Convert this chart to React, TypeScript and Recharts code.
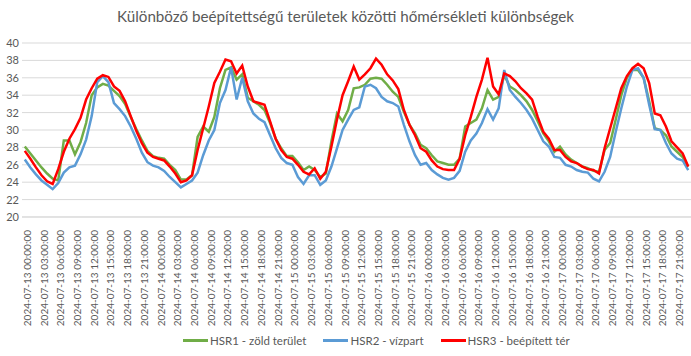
import { LineChart, Line, XAxis, YAxis, CartesianGrid } from 'recharts';

const days = ['2024-07-13', '2024-07-14', '2024-07-15', '2024-07-16', '2024-07-17'];

// HSR1 - zöld terület
const hsr1 = [
  28.1, 27.3, 26.5, 25.7, 25.0, 24.4, 24.2, 28.8, 28.8, 27.2, 28.6, 30.8, 34.0, 34.9, 35.3, 35.1, 34.5, 33.9, 33.0, 31.5, 30.1, 28.8, 27.6, 27.0,
  26.8, 26.7, 26.0, 25.4, 24.3, 24.3, 24.8, 29.2, 30.4, 29.8, 31.5, 34.8, 36.9, 37.2, 35.8, 36.4, 33.7, 33.3, 32.9, 32.3, 30.8, 29.0, 27.9, 27.0,
  27.0, 26.3, 25.4, 25.8, 25.4, 24.6, 25.0, 28.7, 31.9, 31.0, 32.3, 34.8, 34.9, 35.2, 35.9, 36.0, 35.9, 35.2, 34.4, 33.8, 32.1, 30.6, 29.6, 28.3,
  27.9, 27.1, 26.4, 26.2, 26.0, 26.0, 26.7, 30.4, 30.8, 31.2, 32.5, 34.6, 33.5, 33.8, 36.3, 35.0, 34.6, 34.0, 33.3, 32.3, 31.0, 29.6, 28.7, 27.5,
  28.1, 27.2, 26.6, 26.2, 25.8, 25.6, 25.3, 25.2, 27.7, 28.5, 31.2, 34.0, 36.0, 36.9, 36.9, 36.0, 33.3, 30.2, 30.0, 29.4, 28.1, 27.5, 26.9, 25.8,
];

// HSR2 - vízpart
const hsr2 = [
  26.6, 25.7, 24.9, 24.2, 23.7, 23.2, 23.9, 25.1, 25.7, 25.9, 27.2, 28.9, 31.6, 35.5, 36.2, 35.5, 33.1, 32.4, 31.6, 30.4, 29.0, 27.4, 26.3, 25.9,
  25.7, 25.3, 24.6, 24.0, 23.4, 23.8, 24.2, 25.1, 27.1, 28.8, 30.0, 33.1, 34.6, 37.2, 33.5, 36.0, 33.3, 31.9, 31.3, 30.9, 29.4, 27.9, 26.8, 26.2,
  26.0, 24.6, 23.8, 24.8, 24.8, 23.7, 24.2, 25.8, 27.9, 30.0, 31.2, 32.3, 32.6, 35.0, 35.2, 34.8, 33.8, 33.3, 33.1, 32.7, 30.6, 28.7, 27.1, 26.0,
  26.2, 25.4, 24.9, 24.5, 24.3, 24.5, 25.3, 27.5, 28.8, 29.6, 30.8, 32.4, 31.2, 32.5, 36.9, 34.6, 33.8, 33.1, 32.3, 31.3, 30.0, 28.7, 28.1, 26.9,
  26.8, 26.0, 25.8, 25.4, 25.2, 25.1, 24.4, 24.1, 25.2, 26.9, 29.8, 32.5, 35.0, 36.9, 37.1, 36.0, 32.9, 30.1, 30.0, 28.5, 27.3, 26.7, 26.5, 25.4,
];

// HSR3 - beépített tér
const hsr3 = [
  27.6, 26.7, 25.7, 24.8, 24.1, 23.8, 25.5, 27.5, 29.0, 30.1, 31.4, 33.5, 34.8, 35.9, 36.3, 36.1, 35.0, 34.5, 33.3, 31.6, 29.9, 28.5, 27.4, 26.9,
  26.7, 26.5, 25.8, 25.0, 24.0, 24.2, 24.8, 27.7, 30.2, 32.7, 35.4, 36.7, 38.1, 37.9, 36.5, 37.4, 35.0, 33.3, 33.1, 32.9, 31.0, 29.0, 27.7, 26.9,
  26.7, 26.0, 25.2, 24.9, 25.6, 24.4, 25.2, 28.1, 31.2, 34.0, 35.6, 37.3, 35.8, 36.4, 37.1, 38.2, 37.5, 36.4, 35.7, 34.7, 32.3, 30.6, 29.4, 27.9,
  27.5, 26.5, 25.8, 25.5, 25.4, 25.4, 26.7, 29.4, 31.5, 33.8, 35.8, 38.3, 35.0, 34.1, 36.5, 36.2, 35.6, 34.8, 34.2, 33.5, 31.5, 29.8, 29.0, 27.7,
  27.7, 26.9, 26.4, 26.2, 25.8, 25.5, 25.4, 25.0, 27.9, 30.2, 32.5, 34.8, 36.2, 37.1, 37.6, 37.1, 35.4, 31.9, 31.7, 30.4, 28.7, 28.0, 27.3, 25.8,
];

const yTicks = [20, 22, 24, 26, 28, 30, 32, 34, 36, 38, 40];

const series = [
  { key: 'hsr1', name: 'HSR1 - zöld terület', color: '#70ad47' },
  { key: 'hsr2', name: 'HSR2 - vízpart', color: '#5b9bd5' },
  { key: 'hsr3', name: 'HSR3 - beépített tér', color: '#ff0000' },
];

const timestamps = days.flatMap((d) =>
  Array.from({ length: 24 }, (_, h) => `${d} ${String(h).padStart(2, '0')}:00:00`)
);

const data = timestamps.map((t, i) => ({ i, t, hsr1: hsr1[i], hsr2: hsr2[i], hsr3: hsr3[i] }));
const xTicks = data.filter((d) => d.i % 3 === 0).map((d) => d.i);

const FONT = 'Lato, "Open Sans", sans-serif';
const TEXT = '#595959';

const XTick = ({ x, y, payload }: any) => (
  <text
    x={0}
    y={0}
    transform={`translate(${x + 6}, ${y + 5}) rotate(-90)`}
    textAnchor="end"
    fontSize={10}
    fontFamily={FONT}
    fill={TEXT}
  >
    {timestamps[payload.value]}
  </text>
);

const YTick = ({ y, payload }: any) => (
  <text x={19} y={y + 4} textAnchor="end" fontSize={11} fontFamily={FONT} fill={TEXT}>
    {payload.value}
  </text>
);

export default function App() {
  return (
    <div style={{ position: 'absolute', left: 0, top: 0, width: 691, height: 356, background: '#fff', fontFamily: FONT }}>
      <div
        style={{
          position: 'absolute',
          top: 7,
          left: 0,
          width: 691,
          textAlign: 'center',
          fontSize: 15.2,
          color: TEXT,
        }}
      >
        Különböző beépítettségű területek közötti hőmérsékleti különbségek
      </div>
      <LineChart width={691} height={356} data={data} margin={{ top: 43, right: 0, bottom: 24, left: 0 }}>
        <CartesianGrid vertical={false} stroke="#d9d9d9" />
        <XAxis
          type="number"
          dataKey="i"
          domain={[-0.5, 119.5]}
          ticks={xTicks}
          interval={0}
          height={115}
          tick={<XTick />}
          tickLine={false}
          axisLine={{ stroke: '#d9d9d9' }}
        />
        <YAxis
          domain={[20, 40]}
          ticks={yTicks}
          interval={0}
          width={22}
          tick={<YTick />}
          tickLine={false}
          axisLine={false}
        />
        {series.map((s) => (
          <Line
            key={s.key}
            type="linear"
            dataKey={s.key}
            name={s.name}
            stroke={s.color}
            strokeWidth={2.5}
            dot={false}
            isAnimationActive={false}
          />
        ))}
      </LineChart>
      <div
        style={{
          position: 'absolute',
          top: 334,
          left: 183,
          display: 'flex',
          gap: 17,
          fontSize: 11.5,
          color: TEXT,
        }}
      >
        {series.map((s) => (
          <div key={s.key} style={{ display: 'flex', alignItems: 'center' }}>
            <div style={{ width: 25, height: 3, background: s.color, marginRight: 2 }} />
            <span>{s.name}</span>
          </div>
        ))}
      </div>
    </div>
  );
}
